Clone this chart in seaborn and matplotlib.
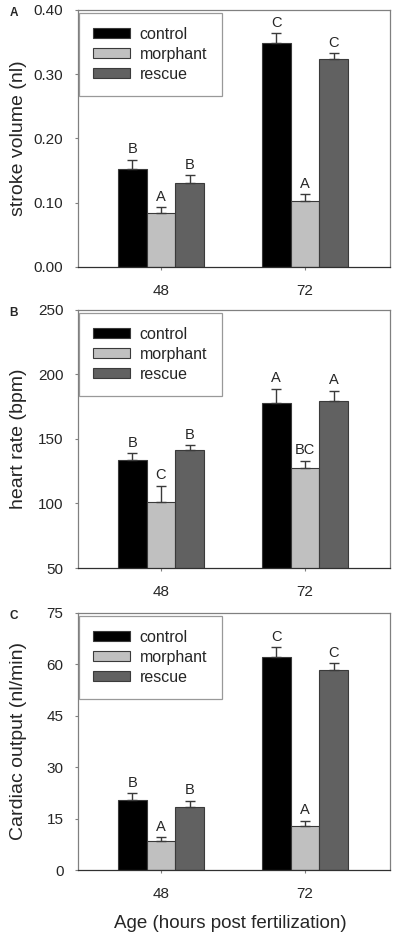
"""
Stroke volume, heart rate and cardiac output at 48 and 72 hpf,
three stacked bar panels with upward error bars and letter groups.
"""

import numpy as np
import pandas as pd
import seaborn as sns
import matplotlib
matplotlib.use("Agg")
import matplotlib.pyplot as plt


# data
ages = ["48", "72"]
groups = ["control", "morphant", "rescue"]
colors = ["#000000", "#c0c0c0", "#616161"]

stroke_mean = {"control": [0.153, 0.349], "morphant": [0.084, 0.102], "rescue": [0.130, 0.324]}
stroke_err = {"control": [0.014, 0.015], "morphant": [0.009, 0.011], "rescue": [0.013, 0.009]}
stroke_letters = {"control": ["B", "C"], "morphant": ["A", "A"], "rescue": ["B", "C"]}

rate_mean = {"control": [133.7, 178.0], "morphant": [100.8, 127.3], "rescue": [141.2, 179.8]}
rate_err = {"control": [5.2, 11.0], "morphant": [12.8, 5.9], "rescue": [4.1, 7.5]}
rate_letters = {"control": ["B", "A"], "morphant": ["C", "BC"], "rescue": ["B", "A"]}

output_mean = {"control": [20.4, 62.2], "morphant": [8.5, 12.9], "rescue": [18.5, 58.4]}
output_err = {"control": [2.0, 2.8], "morphant": [1.0, 1.5], "rescue": [1.7, 2.0]}
output_letters = {"control": ["B", "C"], "morphant": ["A", "A"], "rescue": ["B", "C"]}

panels = [
    ("A", "stroke volume (nl)", stroke_mean, stroke_err, stroke_letters, (0, 0.40), np.arange(0, 0.41, 0.10), "%.2f"),
    ("B", "heart rate (bpm)", rate_mean, rate_err, rate_letters, (50, 250), np.arange(50, 251, 50), "%d"),
    ("C", "Cardiac output (nl/min)", output_mean, output_err, output_letters, (0, 75), np.arange(0, 76, 15), "%d"),
]


sns.set_theme(style="ticks")
plt.rcParams["font.family"] = ["Liberation Sans", "DejaVu Sans"]

W, H = 397, 938
fig = plt.figure(figsize=(W / 100, H / 100), dpi=100)

# axes boxes in pixels: left, top, right, bottom
boxes = [(78, 10, 390, 267), (78, 310, 390, 568), (78, 613, 390, 870)]


def bar_panel(ax, mean, err, letters, ylim, yticks, fmt, ylabel):
    df = pd.DataFrame({
        "age": [a for g in groups for a in ages],
        "group": [g for g in groups for a in ages],
        "value": [v for g in groups for v in mean[g]],
    })
    sns.barplot(data=df, x="age", y="value", hue="group", order=ages, hue_order=groups,
                palette=colors, width=0.6, errorbar=None, edgecolor="#3a3a3a",
                linewidth=0.8, ax=ax, zorder=2)

    for g, cont in zip(groups, ax.containers):
        xs = [p.get_x() + p.get_width() / 2 for p in cont.patches]
        ys = [p.get_height() for p in cont.patches]
        ax.errorbar(xs, ys, yerr=[np.zeros(len(ys)), err[g]], fmt="none",
                    ecolor="#3a3a3a", elinewidth=1, capsize=3.5, capthick=1, zorder=3)
        for x, y, e, t in zip(xs, ys, err[g], letters[g]):
            ax.annotate(t, (x, y + e), xytext=(0, 2.5), textcoords="offset points",
                        ha="center", va="bottom", fontsize=10.5)

    ax.set_ylim(*ylim)
    ax.set_xlim(-0.576, 1.59)
    ax.set_yticks(yticks)
    ax.set_yticklabels([fmt % v for v in yticks])
    ax.set_xlabel("")
    ax.set_ylabel(ylabel, fontsize=14)
    ax.yaxis.set_label_coords(-0.165, 0.5)
    ax.tick_params(axis="y", labelsize=11, length=2.5, width=0.8, color="#808080", pad=8)
    ax.tick_params(axis="x", labelsize=11, length=2.5, width=0.8, color="#808080", pad=10)

    for side in ["left", "top", "right"]:
        ax.spines[side].set_visible(True)
        ax.spines[side].set_color("#808080")
        ax.spines[side].set_linewidth(0.9)
    ax.spines["bottom"].set_color("#303030")
    ax.spines["bottom"].set_linewidth(0.9)

    handles, labels = ax.get_legend_handles_labels()
    leg = ax.legend(handles, labels, loc="upper left", bbox_to_anchor=(0.003, 0.99),
                    borderaxespad=0, fontsize=11.5, frameon=True, fancybox=False,
                    handlelength=2.3, handleheight=0.55, handletextpad=0.6,
                    labelspacing=0.3, borderpad=0.9)
    leg.get_frame().set_edgecolor("#808080")
    leg.get_frame().set_linewidth(0.9)


for (tag, ylabel, mean, err, letters, ylim, yticks, fmt), (l, t, r, b) in zip(panels, boxes):
    ax = fig.add_axes([l / W, 1 - b / H, (r - l) / W, (b - t) / H])
    bar_panel(ax, mean, err, letters, ylim, yticks, fmt, ylabel)
    fig.text(14 / W, 1 - (t + 3) / H, tag, fontsize=8.5, fontweight="bold",
             ha="center", va="center")

fig.text(230 / W, 1 - 923 / H, "Age (hours post fertilization)", fontsize=13.5,
         ha="center", va="center")

fig.savefig("out.png", dpi=100)
